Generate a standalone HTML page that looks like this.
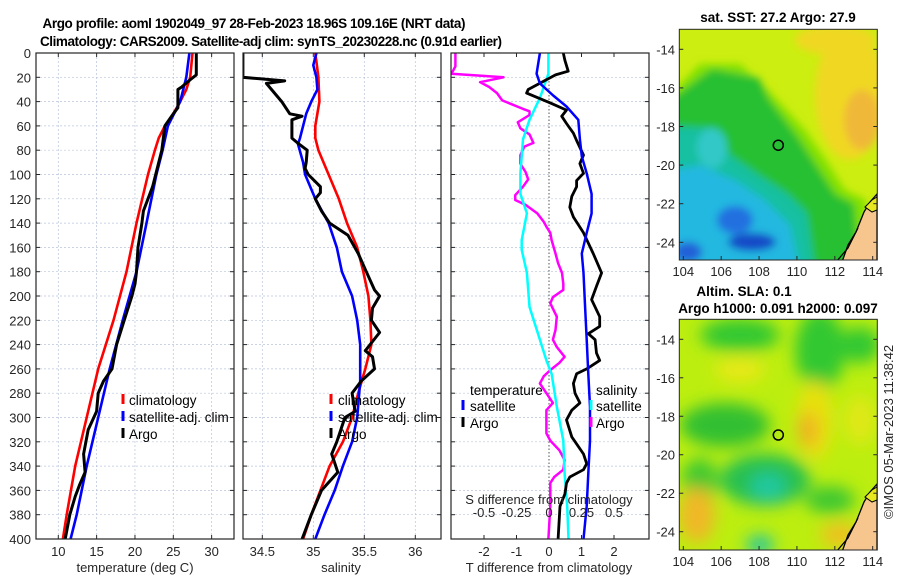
<!DOCTYPE html>
<html><head><meta charset="utf-8"><style>
html,body{margin:0;padding:0;background:#fff;}
svg{display:block;font-family:"Liberation Sans","DejaVu Sans",sans-serif;}
.tk{font-size:13px;fill:#262626;}
.ttl{font-size:13.5px;font-weight:bold;fill:#000;}
.lg{font-size:13.5px;fill:#000;}
</style></head><body>
<svg id="fig" width="900" height="580" viewBox="0 0 900 580">
<defs>
<filter id="blur1" x="-20%" y="-20%" width="140%" height="140%"><feGaussianBlur stdDeviation="4"/></filter>
<filter id="blur2" x="-20%" y="-20%" width="140%" height="140%"><feGaussianBlur stdDeviation="8"/></filter>
<clipPath id="clipTop"><rect x="679.3" y="29.3" width="198" height="230.7"/></clipPath>
<clipPath id="clipBot"><rect x="679.3" y="319.3" width="198" height="230.7"/></clipPath>
<clipPath id="c1"><rect x="36" y="53" width="198" height="486"/></clipPath>
<clipPath id="c2"><rect x="243" y="53" width="198" height="486"/></clipPath>
<clipPath id="c3"><rect x="451" y="53" width="198" height="486"/></clipPath>
</defs>
<text class="ttl" x="254" y="28" text-anchor="middle" textLength="423">Argo profile: aoml 1902049_97 28-Feb-2023 18.96S 109.16E (NRT data)</text>
<text class="ttl" x="271" y="46" text-anchor="middle" textLength="462">Climatology: CARS2009. Satellite-adj clim: synTS_20230228.nc (0.91d earlier)</text>
<g id="p1"></g>
<g id="p2"></g>
<g id="p3"></g>

<!-- SST map -->
<g>
<text class="ttl" x="778" y="22" text-anchor="middle">sat. SST: 27.2 Argo: 27.9</text>
<g clip-path="url(#clipTop)">
<rect x="679.3" y="29.3" width="198" height="230.7" fill="#ccee10"/>
<g filter="url(#blur1)">
<ellipse cx="850" cy="95" rx="35" ry="65" fill="#f0d820"/>
<ellipse cx="862" cy="120" rx="18" ry="30" fill="#f0b838"/>
<ellipse cx="835" cy="40" rx="40" ry="15" fill="#f0d820"/>
<polygon points="670,95 700,64 740,64 768,90 805,130 826,160 845,190 866,200 870,270 670,270" fill="#80e000"/>
<polygon points="670,100 712,69 759,78 768,98 797,136 816,165 835,194 854,204 860,270 670,270" fill="#28c030"/>
<polygon points="670,126 712,128 730,155 759,175 788,194 807,213 815,270 670,270" fill="#18c0a0"/>
<polygon points="670,170 700,165 735,180 765,200 790,225 800,270 670,270" fill="#20b8e0"/>
<ellipse cx="735" cy="220" rx="18" ry="14" fill="#2070e0"/>
<ellipse cx="752" cy="242" rx="24" ry="9" fill="#1848c8"/>
<ellipse cx="688" cy="252" rx="14" ry="10" fill="#2060d8"/>
<ellipse cx="712" cy="148" rx="15" ry="20" fill="#30c8c8"/>
</g>
<path d="M842,262 L848,245 L856,232 L860,222 L864,212 L870,202 L877,194 L877,262 Z" fill="#f7c68e" stroke="#000" stroke-width="1.3"/>
<path d="M865,207 L872,200 L877,197 L877,210 L872,212 Z" fill="#e8e820" stroke="#000" stroke-width="1"/>
<path d="M836,262 L848,248 L858,228" fill="none" stroke="#000" stroke-width="1.2"/>
</g>
<rect x="679.3" y="29.3" width="198" height="230.7" fill="none" stroke="#262626" stroke-width="1"/>
<circle cx="778.3" cy="145.2" r="5" fill="none" stroke="#000" stroke-width="1.5"/>
<g id="mapTopAxes"></g>
</g>

<!-- SLA map -->
<g>
<text class="ttl" x="744" y="296" text-anchor="middle">Altim. SLA: 0.1</text>
<text class="ttl" x="778" y="313" text-anchor="middle">Argo h1000: 0.091 h2000: 0.097</text>
<g clip-path="url(#clipBot)">
<rect x="679.3" y="319.3" width="198" height="230.7" fill="#bcee10"/>
<g filter="url(#blur2)">
<ellipse cx="740" cy="335" rx="40" ry="16" fill="#30c830"/>
<ellipse cx="820" cy="350" rx="25" ry="40" fill="#30c830"/>
<ellipse cx="860" cy="345" rx="20" ry="18" fill="#30c830"/>
<ellipse cx="725" cy="425" rx="45" ry="22" fill="#30c030"/>
<ellipse cx="700" cy="480" rx="18" ry="22" fill="#40c830"/>
<ellipse cx="765" cy="480" rx="45" ry="26" fill="#28c050"/>
<ellipse cx="768" cy="487" rx="18" ry="14" fill="#20c8a0"/>
<ellipse cx="760" cy="545" rx="14" ry="10" fill="#20c8a0"/>
<ellipse cx="830" cy="500" rx="25" ry="14" fill="#40c830"/>
<ellipse cx="815" cy="420" rx="18" ry="40" fill="#e8e010"/>
<ellipse cx="808" cy="430" rx="10" ry="18" fill="#f0b020"/>
<ellipse cx="697" cy="515" rx="18" ry="28" fill="#f0b828"/>
<ellipse cx="740" cy="370" rx="25" ry="12" fill="#e8e818"/>
<ellipse cx="840" cy="535" rx="20" ry="12" fill="#f0c020"/>
<ellipse cx="860" cy="420" rx="15" ry="25" fill="#e0e818"/>
</g>
<path d="M842,552 L848,535 L856,522 L860,512 L864,502 L870,492 L877,484 L877,552 Z" fill="#f7c68e" stroke="#000" stroke-width="1.3"/>
<path d="M865,497 L872,490 L877,487 L877,500 L872,502 Z" fill="#e8e820" stroke="#000" stroke-width="1"/>
<path d="M836,552 L848,538 L858,518" fill="none" stroke="#000" stroke-width="1.2"/>
</g>
<rect x="679.3" y="319.3" width="198" height="230.7" fill="none" stroke="#262626" stroke-width="1"/>
<circle cx="778.3" cy="435" r="5" fill="none" stroke="#000" stroke-width="1.5"/>
<g id="mapBotAxes"></g>
</g>
<text class="tk" x="0" y="0" transform="translate(893,432) rotate(-90)" text-anchor="middle" font-size="13">©IMOS 05-Mar-2023 11:38:42</text>
</svg>
<script>
// ---------- DATA ----------
var depthTicks = [0,20,40,60,80,100,120,140,160,180,200,220,240,260,280,300,320,340,360,380,400];
var tempTicks = [10,15,20,25,30];
var salTicks = [34.5,35,35.5,36];
var tdiffTicks = [-2,-1,0,1,2];
var sdiffTicks = [-0.5,-0.25,0,0.25,0.5];
var sdiffLabels = ["-0.5","-0.25","0","0.25","0.5"];

var climTDepth = [0,20,30,40,50,60,70,80,100,140,180,220,260,300,340,380,400];
var climTVal   = [27.5,27.2,26.7,25.9,25.0,23.9,23.1,22.6,21.7,20.2,18.9,17.2,15.2,13.7,12.2,11.1,10.6];
var satTDepth  = [0,20,40,60,80,100,140,180,220,260,300,340,380,400];
var satTVal    = [27.1,26.7,25.9,24.3,23.6,22.8,21.5,20.2,18.4,16.7,15.2,13.7,12.4,11.6];
var argoTDepth = [0,18,22,28,30,45,50,60,80,100,110,120,130,140,160,180,190,200,220,240,260,270,280,295,310,330,345,355,365,380,400];
var argoTVal   = [28.0,28.0,27.2,26.1,25.6,25.6,25.0,23.9,23.5,22.7,22.3,21.7,21.1,20.9,20.4,20.2,20.0,19.6,18.6,17.6,17.0,15.9,15.2,15.0,13.9,13.3,13.5,12.8,12.2,11.5,10.9];

var climSDepth = [0,20,40,60,70,80,100,120,140,160,180,200,220,240,260,280,300,320,340,360,380,400];
var climSVal   = [35.02,35.05,35.06,35.02,35.02,35.05,35.15,35.25,35.33,35.43,35.49,35.54,35.56,35.57,35.51,35.44,35.38,35.29,35.16,35.07,34.98,34.90];
var satSDepth  = [0,10,20,30,40,50,60,70,75,90,100,120,140,160,180,200,220,240,270,300,320,340,360,380,400];
var satSVal    = [35.03,35.00,35.03,35.04,34.98,34.93,34.90,34.87,34.85,34.90,34.92,35.02,35.15,35.23,35.28,35.38,35.43,35.46,35.46,35.43,35.38,35.29,35.21,35.11,35.02];
var argoSDepth = [0,20,23,25,30,40,50,52,55,60,70,75,80,90,95,100,110,115,120,130,140,150,165,180,195,200,210,220,230,245,250,260,270,280,295,300,320,330,345,360,380,400];
var argoSVal   = [34.31,34.31,34.72,34.54,34.59,34.69,34.77,34.89,34.79,34.79,34.79,34.86,34.94,34.93,34.92,34.95,35.07,35.07,35.02,35.08,35.16,35.34,35.44,35.52,35.60,35.65,35.58,35.57,35.65,35.51,35.58,35.60,35.47,35.38,35.41,35.31,35.23,35.18,35.24,35.08,34.98,34.89];

var satTdDepth = [0,17,25,35,44,55,71,85,99,116,132,148,165,181,209,236,264,291,319,346,373,400];
var satTdVal   = [-0.28,-0.38,-0.28,0.13,0.54,0.90,0.95,1.01,1.16,1.31,1.31,1.16,1.01,1.06,1.11,1.16,1.21,1.26,1.26,1.21,1.16,1.06];
var argoTdDepth = [0,6,15,18,30,33,41,47,52,58,66,72,84,91,99,105,110,118,127,135,148,165,181,192,203,217,225,231,236,247,253,260,264,272,280,288,294,302,316,330,338,343,349,354,363,373,400];
var argoTdVal   = [0.44,0.49,0.59,0.2,-0.64,-0.69,0.03,0.54,0.39,0.54,0.75,0.85,1.06,0.95,1.06,0.85,0.85,0.70,0.64,0.75,1.06,1.36,1.62,1.46,1.31,1.56,1.56,1.21,1.42,1.46,1.56,1.16,0.85,0.75,0.80,0.95,0.70,0.54,0.70,1.06,1.16,1.06,0.64,0.54,0.49,0.34,0.28];
var satSdDepth = [0,17,37,55,71,99,116,132,154,162,181,209,236,253,264,291,319,346,373,400];
var satSdVal   = [-0.005,-0.005,-0.07,-0.15,-0.20,-0.22,-0.22,-0.17,-0.21,-0.21,-0.17,-0.15,-0.07,-0.02,0.02,0.06,0.11,0.12,0.14,0.15];
var argoSdDepth = [0,11,17,20,24,28,33,39,46,48,51,57,62,67,74,77,84,91,98,104,110,117,121,125,132,139,143,148,154,165,173,181,190,195,201,206,217,228,236,242,250,255,261,266,272,280,288,294,313,319,327,335,343,349,354,373,400];
var argoSdVal   = [-0.72,-0.72,-0.75,-0.35,-0.53,-0.46,-0.40,-0.36,-0.20,-0.15,-0.15,-0.24,-0.22,-0.15,-0.12,-0.19,-0.22,-0.22,-0.18,-0.16,-0.20,-0.26,-0.26,-0.18,-0.09,-0.04,-0.02,0.01,0.02,0.05,0.07,0.10,0.11,0.11,0.03,0.01,0.06,0.05,0.03,0.06,0.12,0.08,0.01,-0.04,-0.07,-0.02,0.03,-0.02,-0.02,0.01,0.08,0.12,0.11,0.04,0.01,0.01,-0.005];

var lonTicks = [104,106,108,110,112,114];
var latTicks = [-14,-16,-18,-20,-22,-24];

// ---------- SCALES ----------
var NS='http://www.w3.org/2000/svg';
function yD(d){return 53 + d*1.215;}
function xT(t){return 58.3 + (t-10)*7.667;}
function xS(s){return 313.3 + (s-35)*102;}
function xTd(t){return 549 + t*32.5;}
function xSd(s){return 549 + s*130;}
function lonX(l){return 683.3 + (l-104)*18.94;}
function latYTop(l){return 49.3 + (-14-l)*19.3;}
function latYBot(l){return 339.3 + (-14-l)*19.24;}

function mk(tag, attrs, parent){var e=document.createElementNS(NS,tag);for(var k in attrs)e.setAttribute(k,attrs[k]);parent.appendChild(e);return e;}

function panelFrame(g, x0, clip){
  mk('rect',{x:x0,y:53,width:198,height:486,fill:'#fff'},g);
  for(var i=0;i<depthTicks.length;i++){
    var y=yD(depthTicks[i]);
    var gl=mk('line',{x1:x0,x2:x0+198,y1:y,y2:y,stroke:'#b8c4dc','stroke-width':0.7,'stroke-dasharray':'2,2'},g);
    
    
    mk('line',{x1:x0,x2:x0+4,y1:y,y2:y,stroke:'#262626','stroke-width':1},g);
    mk('line',{x1:x0+194,x2:x0+198,y1:y,y2:y,stroke:'#262626','stroke-width':1},g);
  }
}
function vgrid(g,xs){
  for(var i=0;i<xs.length;i++){
    mk('line',{x1:xs[i],x2:xs[i],y1:53,y2:539,stroke:'#b8c4dc','stroke-width':0.7,'stroke-dasharray':'2,2'},g);
    mk('line',{x1:xs[i],x2:xs[i],y1:53,y2:57,stroke:'#262626','stroke-width':1},g);
    mk('line',{x1:xs[i],x2:xs[i],y1:535,y2:539,stroke:'#262626','stroke-width':1},g);
  }
}
function line(g, depths, vals, xf, color, w, name, clip){
  var pts=[];
  for(var i=0;i<depths.length;i++) pts.push(xf(vals[i]).toFixed(1)+','+yD(depths[i]).toFixed(1));
  var p=mk('polyline',{points:pts.join(' '),fill:'none',stroke:color,'stroke-width':w,'stroke-linejoin':'round','clip-path':'url(#'+clip+')'},g);
  
  
}
function txt(g,x,y,s,cls,anchor){var t=mk('text',{x:x,y:y,'class':cls,'text-anchor':anchor||'start'},g);t.textContent=s;return t;}
function border(g,x0){mk('rect',{x:x0,y:53,width:198,height:486,fill:'none',stroke:'#262626','stroke-width':1.2},g);}
function legMark(g,x,y,color){mk('line',{x1:x,x2:x,y1:y-11,y2:y-1,stroke:color,'stroke-width':3},g);}

// Panel 1
var p1=document.getElementById('p1');
panelFrame(p1,36);
vgrid(p1,tempTicks.map(xT));
line(p1,climTDepth,climTVal,xT,'#ff0000',2.6,'climatology-temp-line','c1');
line(p1,satTDepth,satTVal,xT,'#0000ff',2.6,'satellite-temp-line','c1');
line(p1,argoTDepth,argoTVal,xT,'#000000',3,'argo-temp-line','c1');
border(p1,36);
for(var i=0;i<depthTicks.length;i++){var t=txt(p1,31,yD(depthTicks[i])+5,String(depthTicks[i]),'tk','end');

}
for(var i=0;i<tempTicks.length;i++){var t=txt(p1,xT(tempTicks[i]),556,String(tempTicks[i]),'tk','middle');

}
var xt1=txt(p1,135,572,'temperature (deg C)','tk','middle');


var lg1=mk('g',{},p1);


legMark(lg1,123,405,'#ff0000');txt(lg1,129,405,'climatology','lg');
legMark(lg1,123,422,'#0000ff');txt(lg1,129,422,'satellite-adj. clim','lg');
legMark(lg1,123,439,'#000');txt(lg1,129,439,'Argo','lg');

// Panel 2
var p2=document.getElementById('p2');
panelFrame(p2,243);
vgrid(p2,salTicks.map(xS));
line(p2,climSDepth,climSVal,xS,'#ff0000',2.6,'climatology-sal-line','c2');
line(p2,satSDepth,satSVal,xS,'#0000ff',2.6,'satellite-sal-line','c2');
line(p2,argoSDepth,argoSVal,xS,'#000000',3,'argo-sal-line','c2');
border(p2,243);
for(var i=0;i<salTicks.length;i++){var t=txt(p2,xS(salTicks[i]),556,String(salTicks[i]),'tk','middle');

}
var xt2=txt(p2,341,572,'salinity','tk','middle');


var lg2=mk('g',{},p2);


legMark(lg2,331,405,'#ff0000');txt(lg2,338,405,'climatology','lg');
legMark(lg2,331,422,'#0000ff');txt(lg2,338,422,'satellite-adj. clim','lg');
legMark(lg2,331,439,'#000');txt(lg2,338,439,'Argo','lg');

// Panel 3
var p3=document.getElementById('p3');
panelFrame(p3,451);
var tdx=tdiffTicks.map(xTd);
for(var i=0;i<tdx.length;i++){mk('line',{x1:tdx[i],x2:tdx[i],y1:535,y2:539,stroke:'#262626'},p3);mk('line',{x1:tdx[i],x2:tdx[i],y1:53,y2:57,stroke:'#262626'},p3);}
mk('line',{x1:xTd(0),x2:xTd(0),y1:53,y2:539,stroke:'#555','stroke-width':1,'stroke-dasharray':'1.5,2'},p3);
line(p3,argoSdDepth,argoSdVal,xSd,'#ff00ff',2.5,'argo-sal-diff-line','c3');
line(p3,satSdDepth,satSdVal,xSd,'#00ffff',2.5,'satellite-sal-diff-line','c3');
line(p3,argoTdDepth,argoTdVal,xTd,'#000000',2.8,'argo-temp-diff-line','c3');
line(p3,satTdDepth,satTdVal,xTd,'#0000ff',2.5,'satellite-temp-diff-line','c3');
border(p3,451);
for(var i=0;i<tdiffTicks.length;i++){var t=txt(p3,xTd(tdiffTicks[i]),556,String(tdiffTicks[i]),'tk','middle');

}
var xt3=txt(p3,549,572,'T difference from climatology','tk','middle');


for(var i=0;i<sdiffTicks.length;i++){var t=txt(p3,xSd(sdiffTicks[i]),517,sdiffLabels[i],'tk','middle');

}
var xs3=txt(p3,549,504,'S difference from climatology','tk','middle');


var lg3=mk('g',{},p3);


txt(lg3,470,395,'temperature','lg');txt(lg3,596,395,'salinity','lg');
legMark(lg3,463,411,'#0000ff');txt(lg3,470,411,'satellite','lg');
legMark(lg3,463,428,'#000');txt(lg3,470,428,'Argo','lg');
legMark(lg3,591,411,'#00ffff');txt(lg3,596,411,'satellite','lg');
legMark(lg3,591,428,'#ff00ff');txt(lg3,596,428,'Argo','lg');

// Map axes
function mapAxes(id, latY, bottom, name){
  var g=document.getElementById(id);
  
  
  for(var i=0;i<lonTicks.length;i++){var x=lonX(lonTicks[i]);
    mk('line',{x1:x,x2:x,y1:bottom-4,y2:bottom,stroke:'#262626'},g);
    var t=txt(g,x,bottom+16,String(lonTicks[i]),'tk','middle');
    
    }
  for(var i=0;i<latTicks.length;i++){var y=latY(latTicks[i]);
    mk('line',{x1:679.3,x2:683.3,y1:y,y2:y,stroke:'#262626'},g);
    mk('line',{x1:873.3,x2:877.3,y1:y,y2:y,stroke:'#262626'},g);
    var t=txt(g,675,y+5,String(latTicks[i]),'tk','end');
    
    }
}
mapAxes('mapTopAxes',latYTop,260,'sst-map-axes');
mapAxes('mapBotAxes',latYBot,550,'sla-map-axes');
</script>
</body></html>
